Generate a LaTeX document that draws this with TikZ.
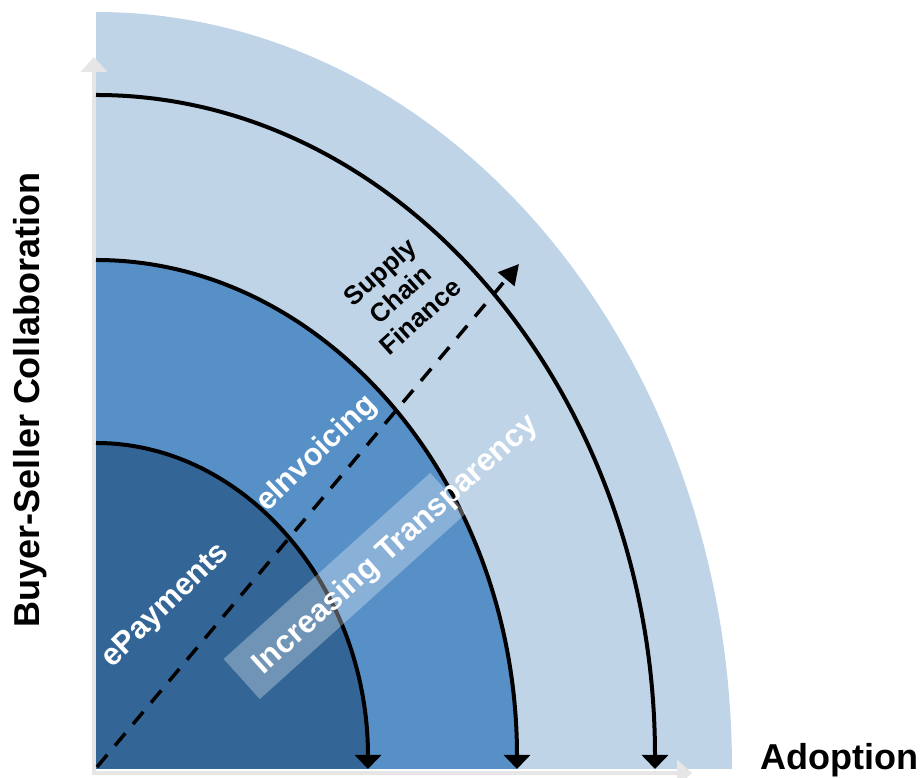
\documentclass[tikz,border=0pt]{standalone}
\usepackage{fontspec}
\setmainfont{Liberation Sans}
\usetikzlibrary{arrows.meta}
\definecolor{ringlight}{HTML}{C0D4E8}
\definecolor{ringmid}{HTML}{5690C6}
\definecolor{ringdark}{HTML}{336696}
\definecolor{axisgray}{HTML}{E6E6E6}
\begin{document}
\begin{tikzpicture}[x=1pt,y=1pt,
  flowarc/.style={line width=4pt,-{Triangle[length=14pt,width=26pt]}},
  axisline/.style={axisgray,line width=4pt,-{Triangle[length=15pt,width=26pt]}},
  stagelabel/.style={text=white,font=\bfseries\fontsize{31}{35}\selectfont,inner sep=0pt},
  axislabel/.style={font=\bfseries\fontsize{36}{40}\selectfont,inner sep=0pt},
  trend/.style={line width=3.5pt,dash pattern=on 16pt off 12pt,-{Triangle[length=20pt,width=21pt]}}]
\useasboundingbox (0,0) rectangle (923,778);
\coordinate (O) at (96,9);

% nested quarter rings
\fill[ringlight] (O) -- ++(0,757) arc[start angle=90,end angle=0,x radius=636,y radius=757] -- cycle;
\fill[ringmid] (O) -- ++(0,509) arc[start angle=90,end angle=0,x radius=421,y radius=509] -- cycle;
\fill[ringdark] (O) -- ++(0,326) arc[start angle=90,end angle=0,x radius=272,y radius=326] -- cycle;

% axes
\coordinate (ybase) at (94,4);
\coordinate (ytip) at (94,721);
\coordinate (xbase) at (92,5);
\coordinate (xtip) at (692,5);
\draw[axisline] (ybase) -- (ytip);
\draw[axisline] (xbase) -- (xtip);

% flow arcs along the ring boundaries
\draw[flowarc] (O) ++(0,326) arc[start angle=90,end angle=0,x radius=272,y radius=326];
\draw[flowarc] (O) ++(0,509) arc[start angle=90,end angle=0,x radius=421,y radius=509];
\draw[flowarc] (O) ++(0,674) arc[start angle=90,end angle=0,x radius=559,y radius=674];

% transparency band
\node[fill=white,fill opacity=0.3,minimum width=278pt,minimum height=54pt,
      inner sep=0pt,rotate=42] (band) at (345,192) {};

% diagonal trend arrow
\coordinate (dstart) at (97,11);
\coordinate (dend) at (519,514);
\draw[trend] (dstart) -- (dend);

% labels
\node[stagelabel,rotate=44] (epay) at (166,172) {ePayments};
\node[stagelabel,rotate=44] (einv) at (317,324) {eInvoicing};
\node[stagelabel,rotate=42,font=\bfseries\fontsize{31.5}{35}\selectfont] (trans) at (396,233) {Increasing Transparency};
\node[rotate=42,align=center,inner sep=0pt,
      font=\bfseries\fontsize{26}{30}\selectfont] (scf) at (400,484) {Supply\\Chain\\Finance};
\node[axislabel,rotate=90] (ylab) at (30,378) {Buyer-Seller Collaboration};
\node[axislabel,anchor=base west] (xlab) at (760,8) {Adoption};
\end{tikzpicture}
\end{document}
